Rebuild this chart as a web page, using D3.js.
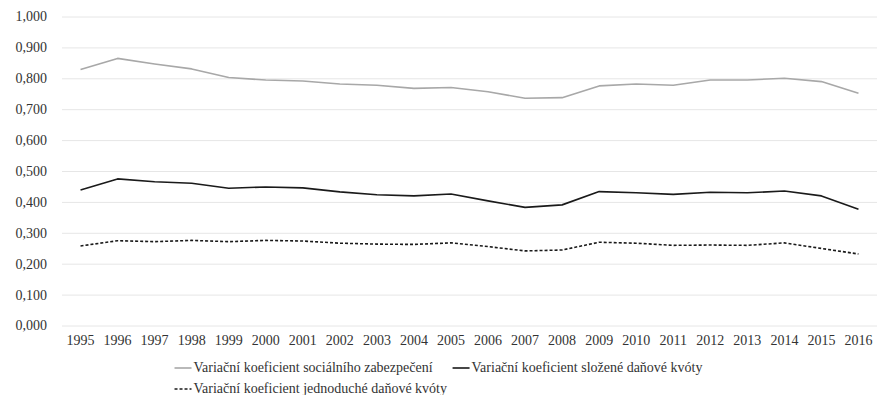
<!DOCTYPE html>
<html>
<head>
<meta charset="utf-8">
<script src="https://cdn.jsdelivr.net/npm/d3@7"></script>
</head>
<body style="margin:0;padding:0;background:#fff">
<div id="figure"></div>
<script>
const years = ["1995","1996","1997","1998","1999","2000","2001","2002","2003","2004","2005",
               "2006","2007","2008","2009","2010","2011","2012","2013","2014","2015","2016"];

const socialSecurity = [0.830, 0.866, 0.848, 0.832, 0.804, 0.796, 0.793, 0.783, 0.779, 0.769, 0.772,
                        0.758, 0.737, 0.739, 0.777, 0.783, 0.779, 0.796, 0.796, 0.802, 0.791, 0.753];

const compositeQuota = [0.440, 0.476, 0.467, 0.462, 0.446, 0.450, 0.447, 0.434, 0.425, 0.421, 0.427,
                        0.405, 0.384, 0.392, 0.435, 0.431, 0.426, 0.433, 0.431, 0.437, 0.421, 0.378];

const simpleQuota = [0.259, 0.276, 0.273, 0.277, 0.273, 0.277, 0.275, 0.268, 0.265, 0.264, 0.269,
                     0.257, 0.243, 0.246, 0.271, 0.268, 0.261, 0.262, 0.261, 0.269, 0.251, 0.233];

const yTicks = [0, 0.1, 0.2, 0.3, 0.4, 0.5, 0.6, 0.7, 0.8, 0.9, 1.0];

const seriesNames = [
  "Variační koeficient sociálního zabezpečení",
  "Variační koeficient složené daňové kvóty",
  "Variační koeficient jednoduché daňové kvóty"
];

const series = [
  { name: seriesNames[0], values: socialSecurity, color: "#a8a8a8", width: 1.6, dash: null },
  { name: seriesNames[1], values: compositeQuota, color: "#1a1a1a", width: 1.6, dash: null },
  { name: seriesNames[2], values: simpleQuota,    color: "#1a1a1a", width: 1.6, dash: "3,2" }
];

const TEXT_COLOR = "#333";

const W = 877, H = 395;
const svg = d3.select("#figure").append("svg")
  .attr("width", W).attr("height", H)
  .style("display", "block");

const plot = { left: 62, right: 877, top: 17, bottom: 326 };

const x = d3.scaleBand().domain(years).range([plot.left, plot.right]);
const y = d3.scaleLinear().domain([0, 1]).range([plot.bottom, plot.top]);

const fmt = v => d3.format(".3f")(v).replace(".", ",");

function serif(sel) {
  sel.attr("font-family", "Liberation Serif")
     .style("font-family", '"Liberation Serif"')
     .style("font-size", "14px")
     .style("fill", TEXT_COLOR);
}

// horizontal grid
svg.append("g")
  .selectAll("line")
  .data(yTicks)
  .join("line")
  .attr("x1", plot.left).attr("x2", plot.right)
  .attr("y1", d => y(d)).attr("y2", d => y(d))
  .attr("stroke", "#e6e6e6").attr("stroke-width", 1);

// y axis labels
svg.append("g")
  .selectAll("text")
  .data(yTicks)
  .join("text")
  .attr("x", plot.left - 15)
  .attr("y", d => y(d))
  .attr("dy", "0.32em")
  .attr("text-anchor", "end")
  .call(serif)
  .text(fmt);

// x axis labels
svg.append("g")
  .selectAll("text")
  .data(years)
  .join("text")
  .attr("x", d => x(d) + x.bandwidth() / 2)
  .attr("y", plot.bottom + 9)
  .attr("dy", "0.71em")
  .attr("text-anchor", "middle")
  .call(serif)
  .text(d => d);

// series lines
const line = d3.line()
  .x((d, i) => x(years[i]) + x.bandwidth() / 2)
  .y(d => y(d));

svg.append("g")
  .selectAll("path")
  .data(series)
  .join("path")
  .attr("d", d => line(d.values))
  .attr("fill", "none")
  .attr("stroke", d => d.color)
  .attr("stroke-width", d => d.width)
  .attr("stroke-dasharray", d => d.dash)
  .attr("stroke-linejoin", "round");

// legend
const legend = svg.append("g");
const keyLen = 17, keyGap = 2, itemGap = 20;

function addItem(s, lx, ly) {
  const g = legend.append("g").attr("transform", `translate(${lx},${ly})`);
  g.append("line")
    .attr("x1", 0).attr("x2", keyLen).attr("y1", 0).attr("y2", 0)
    .attr("stroke", s.color).attr("stroke-width", s.width)
    .attr("stroke-dasharray", s.dash);
  g.append("text")
    .attr("x", keyLen + keyGap).attr("y", 0).attr("dy", "0.32em")
    .call(serif).text(s.name);
}

const row1Y = 368, row2Y = 389;
// measure the first row so it can be centred
const tmp = svg.append("text").call(serif);
const w0 = keyLen + keyGap + tmp.text(series[0].name).node().getComputedTextLength();
const w1 = keyLen + keyGap + tmp.text(series[1].name).node().getComputedTextLength();
tmp.remove();
const startX = (W - (w0 + itemGap + w1)) / 2;
addItem(series[0], startX, row1Y);
addItem(series[1], startX + w0 + itemGap, row1Y);
addItem(series[2], startX, row2Y);
</script>
</body>
</html>
